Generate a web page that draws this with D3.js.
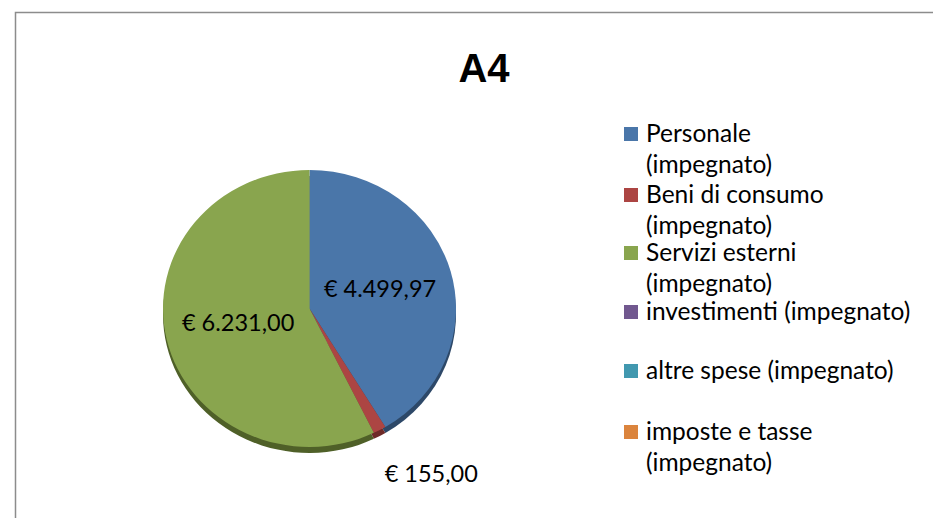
<!DOCTYPE html>
<html>
<head>
<meta charset="utf-8">
<script src="https://cdn.jsdelivr.net/npm/d3@7"></script>
<style>
  html, body { margin: 0; padding: 0; background: #fff; }
  svg { display: block; }
</style>
</head>
<body>
<div id="chart"></div>
<script>
// data
const categories = [
  "Personale (impegnato)",
  "Beni di consumo (impegnato)",
  "Servizi esterni (impegnato)",
  "investimenti (impegnato)",
  "altre spese (impegnato)",
  "imposte e tasse (impegnato)"
];
const legendLines = [
  ["Personale", "(impegnato)"],
  ["Beni di consumo", "(impegnato)"],
  ["Servizi esterni", "(impegnato)"],
  ["investimenti (impegnato)"],
  ["altre spese (impegnato)"],
  ["imposte e tasse", "(impegnato)"]
];
const values = [4499.97, 155.0, 6231.0, 0, 0, 0];
const colors = ["#4a76a9", "#ac4543", "#89a54e", "#71588f", "#4198af", "#db843d"];
const sideColors = ["#2d4868", "#6e2a28", "#4f6028", "#4a3a5e", "#2a6270", "#8e5427"];

const width = 933, height = 518;
const cx = 309.5, cy = 308.5, r = 146.5, tilt = 0.945, depth = 6;

const svg = d3.select("#chart").append("svg")
  .attr("width", width)
  .attr("height", height);

// chart border
svg.append("rect")
  .attr("x", 15.5).attr("y", 12.5)
  .attr("width", width).attr("height", height)
  .attr("fill", "#fff")
  .attr("stroke", "#8c8c8c")
  .attr("stroke-width", 1.5);

// title
svg.append("text")
  .attr("x", 484).attr("y", 82)
  .attr("text-anchor", "middle")
  .attr("font-family", "Liberation Sans, Arial, sans-serif")
  .attr("font-weight", "bold")
  .attr("font-size", 40)
  .attr("fill", "#000")
  .text("A4");

const fmt = (v) => "€ " + d3.format(",.2f")(v).replace(/,/g, "#").replace(".", ",").replace(/#/g, ".");

const pie = d3.pie().sort(null).value((d) => d.value);
const arcs = pie(categories.map((c, i) => ({ name: c, value: values[i], i })))
  .filter((d) => d.data.value > 0);
const arc = d3.arc().innerRadius(0).outerRadius(r);

// side (depth) of the 3d pie
const sideG = svg.append("g")
  .attr("transform", `translate(${cx},${cy + depth}) scale(1,${tilt})`);
sideG.selectAll("path")
  .data(arcs)
  .join("path")
  .attr("d", arc)
  .attr("fill", (d) => sideColors[d.data.i]);

// top face
const topG = svg.append("g")
  .attr("transform", `translate(${cx},${cy}) scale(1,${tilt})`);
topG.selectAll("path")
  .data(arcs)
  .join("path")
  .attr("d", arc)
  .attr("fill", (d) => colors[d.data.i]);

// labels
const lblArc = d3.arc().innerRadius(r * 0.5).outerRadius(r * 0.5);
const edgeArc = d3.arc().innerRadius(r).outerRadius(r);
svg.append("g")
  .attr("font-family", "Lato, Carlito, Calibri, sans-serif")
  .attr("font-size", 23.5)
  .attr("fill", "#000")
  .selectAll("text")
  .data(arcs)
  .join("text")
  .each(function (d) {
    const small = d.endAngle - d.startAngle < 0.2;
    const t = d3.select(this);
    if (small) {
      const [x, y] = edgeArc.centroid(d);
      t.attr("x", cx + x + 5).attr("y", cy + y * tilt + 52).attr("text-anchor", "start");
    } else {
      const [x, y] = lblArc.centroid(d);
      t.attr("x", cx + x).attr("y", cy + y * tilt + 7).attr("text-anchor", "middle");
    }
  })
  .text((d) => fmt(d.data.value));

// legend
const legendY = [142, 203, 261, 320, 379, 440];
const legend = svg.append("g")
  .attr("font-family", "Lato, Carlito, Calibri, sans-serif")
  .attr("font-size", 24.5)
  .attr("fill", "#000");
const item = legend.selectAll("g")
  .data(legendLines)
  .join("g")
  .attr("transform", (d, i) => `translate(624,${legendY[i]})`);
item.append("rect")
  .attr("x", 0).attr("y", -15)
  .attr("width", 14).attr("height", 14)
  .attr("fill", (d, i) => colors[i]);
item.selectAll("text")
  .data((d) => d)
  .join("text")
  .attr("x", 22)
  .attr("y", (d, j) => j * 31)
  .text((d) => d);
</script>
</body>
</html>
